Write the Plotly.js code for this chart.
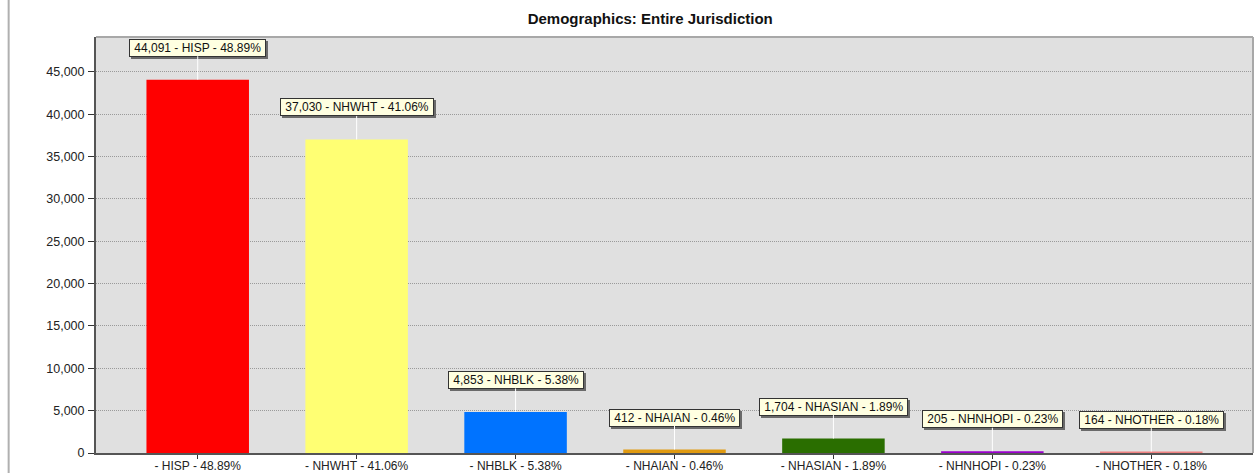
<!DOCTYPE html>
<html>
<head>
<meta charset="utf-8">
<script src="https://cdn.plot.ly/plotly-3.0.1.min.js"></script>
<style>html,body{margin:0;padding:0;background:#fff;}#chart{width:1256px;height:473px;}</style>
</head>
<body>
<div id="chart"></div>
<script>
const codes = ["HISP","NHWHT","NHBLK","NHAIAN","NHASIAN","NHNHOPI","NHOTHER"];
const counts = [44091, 37030, 4853, 412, 1704, 205, 164];
const percents = ["48.89%","41.06%","5.38%","0.46%","1.89%","0.23%","0.18%"];
const barColors = ["#ff0000","#ffff73","#0073ff","#e09a10","#2a6e00","#9a00cc","#f08080"];
const yTicks = [0,5000,10000,15000,20000,25000,30000,35000,40000,45000];

const xLabels = codes.map((c,i)=>"- " + c + " - " + percents[i]);
const fmt = v => v.toLocaleString("en-US");
const FONT = "Liberation Sans, Arial, sans-serif";

const trace = {
  type: "bar",
  x: xLabels,
  y: counts,
  marker: {color: barColors, line: {width: 0}},
  width: 0.645,
  hoverinfo: "none"
};

const annotations = [];
codes.forEach((c,i)=>{
  const txt = "&nbsp;" + fmt(counts[i]) + " - " + c + " - " + percents[i] + "&nbsp;";
  annotations.push({
    x: xLabels[i], y: counts[i], xref: "x", yref: "y",
    text: txt, showarrow: true, arrowhead: 0, arrowwidth: 1, arrowcolor: "rgba(0,0,0,0)",
    ax: 0, ay: -32, xshift: 2, yshift: -2,
    bgcolor: "#6a6a6a", bordercolor: "#6a6a6a", borderwidth: 1, borderpad: 1,
    font: {family: FONT, size: 12, color: "#6a6a6a"}
  });
  annotations.push({
    x: xLabels[i], y: counts[i], xref: "x", yref: "y",
    text: txt, showarrow: true, arrowhead: 0, arrowwidth: 1, arrowcolor: "#ffffff",
    ax: 0, ay: -32,
    bgcolor: "#ffffe1", bordercolor: "#333333", borderwidth: 1, borderpad: 1,
    font: {family: FONT, size: 12, color: "#111111"}
  });
});

const layout = {
  width: 1256, height: 473,
  margin: {l: 96, r: 3, t: 37, b: 20, pad: 0},
  paper_bgcolor: "#ffffff",
  plot_bgcolor: "#e0e0e0",
  showlegend: false,
  title: {
    text: "<b>Demographics: Entire Jurisdiction</b>",
    x: 0.479, xref: "paper", xanchor: "center",
    y: 0.96, yref: "container", yanchor: "middle",
    font: {family: FONT, size: 15, color: "#111111"}
  },
  font: {family: FONT, size: 12, color: "#222"},
  xaxis: {
    type: "category",
    range: [-0.64, 6.64],
    showgrid: false, zeroline: false,
    showline: true, linecolor: "#555555", linewidth: 2,
    ticks: "outside", ticklen: 4, tickcolor: "#333333", tickwidth: 1,
    ticklabelstandoff: -3,
    tickfont: {family: FONT, size: 12, color: "#222222"},
    fixedrange: true
  },
  yaxis: {
    range: [0, 49130],
    tickvals: yTicks,
    ticktext: yTicks.map(fmt),
    showgrid: true, gridcolor: "#9a9a9a", griddash: "1px,1px", gridwidth: 1,
    zeroline: false,
    showline: true, linecolor: "#555555", linewidth: 2,
    ticks: "outside", ticklen: 6, tickcolor: "#333333", tickwidth: 1,
    ticklabelstandoff: 1,
    tickfont: {family: FONT, size: 12.5, color: "#222222"},
    fixedrange: true
  },
  shapes: [
    {type: "line", xref: "paper", yref: "paper", x0: 0, x1: 1, y0: 1, y1: 1, line: {color: "#a8a8a8", width: 2}},
    {type: "line", xref: "paper", yref: "paper", x0: 1, x1: 1, y0: 0, y1: 1, line: {color: "#a8a8a8", width: 2}},
    {type: "line", xref: "paper", yref: "paper", x0: -0.0755, x1: -0.0755, y0: -0.06, y1: 1.1, line: {color: "#b0b0b0", width: 2}}
  ],
  annotations: annotations
};

Plotly.newPlot("chart", [trace], layout, {displayModeBar: false, staticPlot: true});
</script>
</body>
</html>
